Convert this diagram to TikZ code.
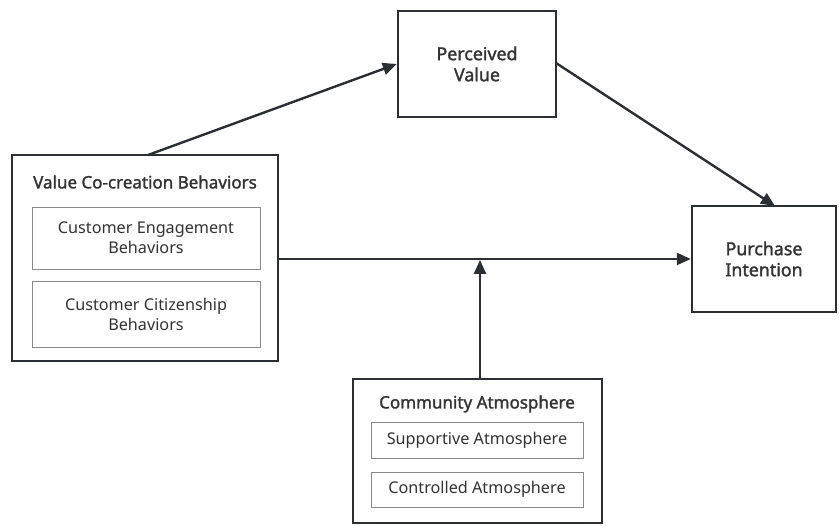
\documentclass[tikz,border=0pt]{standalone}
\usepackage{fontspec}
\setmainfont{Noto Sans}
\newfontfamily\headfont{Noto Sans}[FakeBold=1.6]
\usetikzlibrary{arrows.meta}
\definecolor{ink}{HTML}{2B2F33}
\definecolor{txt}{HTML}{333333}
\definecolor{thin}{HTML}{8A8A8A}
\tikzset{
	outerbox/.style={draw=ink, line width=2.4pt, inner sep=0pt},
	innerbox/.style={draw=thin, line width=0.9pt, fill=white, align=center, text=txt, font=\fontsize{16.2}{20}\selectfont, inner sep=0pt},
	boxtitle/.style={text=txt, font=\fontsize{17}{20}\selectfont\headfont},
	mainbox/.style={draw=ink, line width=2.4pt, align=center, text=txt, font=\fontsize{17.8}{21}\selectfont\headfont, inner sep=0pt},
	link/.style={draw=ink, line width=2.4pt, -{Triangle[length=14pt,width=12pt]}}
}
\begin{document}
	\begin{tikzpicture}[x=1pt,y=-1pt]
		\useasboundingbox (0,0) rectangle (839,526);
		% value co-creation behaviors
		\node[outerbox, minimum width=266pt, minimum height=206pt] (vcb) at (145,258) {};
		\node[boxtitle] (vcbtitle) at (145,182) {Value Co-creation Behaviors};
		\node[innerbox, minimum width=228pt, minimum height=62pt] (ceb) at (146,238) {Customer Engagement\\Behaviors};
		\node[innerbox, minimum width=228pt, minimum height=66pt] (ccb) at (146,314) {Customer Citizenship\\Behaviors};
		% perceived value and purchase intention
		\node[mainbox, minimum width=158pt, minimum height=106pt] (pv) at (477,64) {Perceived\\Value};
		\node[mainbox, minimum width=144pt, minimum height=106pt] (pi) at (764,259) {Purchase\\Intention};
		% community atmosphere
		\node[outerbox, minimum width=249pt, minimum height=144pt] (ca) at (477.5,451) {};
		\node[boxtitle] (catitle) at (477,404) {Community Atmosphere};
		\node[innerbox, minimum width=212pt, minimum height=36pt] (sa) at (477,440) {Supportive Atmosphere};
		\node[innerbox, minimum width=212pt, minimum height=35pt] (cta) at (477,489.5) {Controlled Atmosphere};
		% paths
		\coordinate (mid) at (480,260);
		\draw[link] (148,155) -- (pv.west);
		\draw[link] (556,63) -- (775,206);
		\draw[link] (vcb.east |- pi.west) -- (pi.west);
		\draw[link] (ca.north -| mid) -- (mid);
	\end{tikzpicture}
\end{document}
